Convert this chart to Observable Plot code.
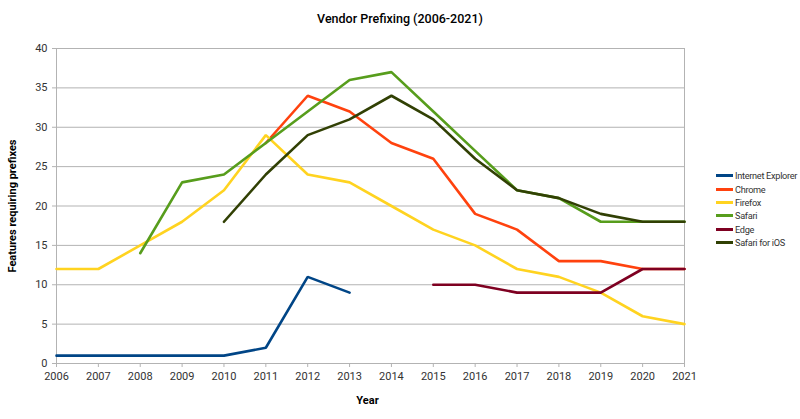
<!DOCTYPE html>
<html><head><meta charset="utf-8">
<script src="https://cdn.jsdelivr.net/npm/d3@7"></script>
<script src="https://cdn.jsdelivr.net/npm/@observablehq/plot@0.6"></script>
<style>
body{margin:0;background:#fff;font-family:Roboto,sans-serif;}
#wrap{position:relative;width:800px;height:419px;overflow:hidden;}
#title{position:absolute;left:0;width:800px;top:11px;text-align:center;font-size:12.5px;font-weight:500;color:#000;}
#chart{position:absolute;left:0;top:40px;}
#legend{position:absolute;left:716px;top:169px;font-size:9.2px;letter-spacing:-0.3px;color:#333;}
.row{height:13.4px;display:flex;align-items:center;white-space:nowrap;}
.sw{width:17px;height:3px;margin-right:2px;}
</style></head>
<body><div id="wrap"><div id="title">Vendor Prefixing (2006-2021)</div><div id="chart"></div><div id="legend"></div></div>
<script>
const years = [2006,2007,2008,2009,2010,2011,2012,2013,2014,2015,2016,2017,2018,2019,2020,2021];
const seriesNames = ["Internet Explorer","Chrome","Firefox","Safari","Edge","Safari for iOS"];
const seriesColors = ["#004586","#ff420e","#ffd320","#579d1c","#7e0021","#314004"];
const ie       = [1,1,1,1,1,2,11,9,null,null,null,null,null,null,null,null];
const chrome   = [null,null,null,null,null,28,34,32,28,26,19,17,13,13,12,12];
const firefox  = [12,12,15,18,22,29,24,23,20,17,15,12,11,9,6,5];
const safari   = [null,null,14,23,24,28,32,36,37,32,27,22,21,18,18,18];
const edge     = [null,null,null,null,null,null,null,null,null,10,10,9,9,9,12,12];
const safariIOS= [null,null,null,null,18,24,29,31,34,31,26,22,21,19,18,18];
const yTicks = [0,5,10,15,20,25,30,35,40];

const allValues = [ie,chrome,firefox,safari,edge,safariIOS];
const data = [];
seriesNames.forEach((name,i)=>{
  allValues[i].forEach((v,j)=>{ if(v!==null) data.push({series:name, year:years[j], value:v}); });
});

const plot = Plot.plot({
  width: 800, height: 379,
  marginLeft: 56, marginRight: 116, marginTop: 8, marginBottom: 56,
  style: {fontFamily: "Roboto, sans-serif", fontSize: "11px", color: "#333", background: "#fff"},
  x: {domain: [2006, 2021], ticks: years, tickFormat: d => String(d), label: null, tickSize: 4, tickPadding: 5},
  y: {domain: [0, 40], ticks: yTicks, label: null, tickSize: 4, tickPadding: 4},
  color: {domain: seriesNames, range: seriesColors},
  marks: [
    Plot.gridY(yTicks, {stroke: "#b3b3b3", strokeOpacity: 1}),
    Plot.ruleX([2006, 2021], {stroke: "#b3b3b3"}),
    Plot.axisX({ticks: years, tickFormat: d => String(d), tickSize: 4, stroke: "#b3b3b3", fill: "#333", label: null}),
    Plot.axisY({ticks: yTicks, tickSize: 4, stroke: "#b3b3b3", fill: "#333", label: null}),
    Plot.line(data, {x: "year", y: "value", z: "series", stroke: "series", strokeWidth: 2.6, strokeLinejoin: "miter"}),
    Plot.text(["Year"], {frameAnchor: "bottom", dy: 40, dx: -3, fontWeight: "bold", fill: "#000", fontSize: 11}),
    Plot.text(["Features requiring prefixes"], {frameAnchor: "left", textAnchor: "middle", dx: -44, rotate: -90, fontWeight: "bold", fill: "#000", fontSize: 11})
  ]
});
document.getElementById("chart").appendChild(plot);

const lg = d3.select("#legend");
seriesNames.forEach((n,i)=>{
  const r = lg.append("div").attr("class","row");
  r.append("div").attr("class","sw").style("background", seriesColors[i]);
  r.append("span").text(n);
});
</script></body></html>
